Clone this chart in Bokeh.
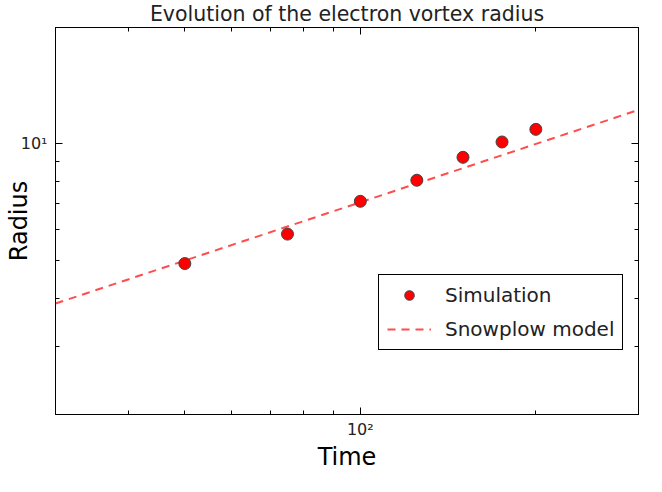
from bokeh.plotting import figure
from bokeh.models import LogAxis, FixedTicker, Legend, LegendItem, Range1d, ColumnDataSource
from bokeh.embed import file_html
from bokeh.resources import INLINE

# Data
sim_time = [50, 75, 100, 125, 150, 175, 200]
sim_radius = [4.91, 5.85, 7.11, 8.06, 9.24, 10.12, 10.91]
model_time = [30, 300]
model_radius = [3.87, 12.25]

x_major = [100]
x_minor = [30, 40, 50, 60, 70, 80, 90, 200, 300]
y_major = [10]
y_minor = [2, 3, 4, 5, 6, 7, 8, 9, 20]
x_tick_labels = {100: "10²"}
y_tick_labels = {10: "10¹"}

FONT = "DejaVu Sans"

p = figure(width=646, height=476, x_axis_type="log", y_axis_type="log",
           x_range=Range1d(30, 300), y_range=Range1d(2, 20),
           output_backend="svg", toolbar_location=None,
           title="Evolution of the electron vortex radius",
           min_border_left=55, min_border_right=8, min_border_top=27, min_border_bottom=62)

p.title.align = "center"
p.title.vertical_align = "top"
p.title.text_font = FONT
p.title.text_font_style = "normal"
p.title.text_font_size = "20.5px"
p.title.text_color = "#222222"
p.title.standoff = 0
p.title.offset = 0

p.grid.visible = False
p.outline_line_color = "black"
p.outline_line_width = 1
p.background_fill_color = "white"
p.border_fill_color = "white"

def style_axis(ax, major, minor, labels, label_size="16px"):
    ax.ticker = FixedTicker(ticks=major, minor_ticks=minor)
    ax.major_label_overrides = labels
    ax.axis_line_color = "black"
    ax.major_tick_line_color = "black"
    ax.minor_tick_line_color = "black"
    ax.major_tick_in = 7
    ax.major_tick_out = 0
    ax.minor_tick_in = 4
    ax.minor_tick_out = 0
    ax.major_label_text_font = FONT
    ax.major_label_text_font_size = label_size
    ax.major_label_text_color = "#222222"
    ax.axis_label_text_font = FONT
    ax.axis_label_text_font_style = "normal"
    ax.axis_label_text_font_size = "24px"
    ax.axis_label_text_color = "black"

xa = p.xaxis[0]
ya = p.yaxis[0]
style_axis(xa, x_major, x_minor, x_tick_labels)
style_axis(ya, y_major, y_minor, y_tick_labels)
xa.axis_label = "Time"
ya.axis_label = "Radius"
xa.major_label_standoff = 5
xa.axis_label_standoff = 1
ya.major_label_standoff = 8
ya.axis_label_standoff = -15

top = LogAxis()
style_axis(top, x_major, x_minor, {100: ""}, label_size="0px")
top.major_label_standoff = 0
top.axis_label_standoff = 0
p.add_layout(top, "above")
right = LogAxis()
style_axis(right, y_major, y_minor, {10: ""}, label_size="0px")
right.major_label_standoff = 0
right.axis_label_standoff = 0
p.add_layout(right, "right")

model_src = ColumnDataSource(dict(t=model_time, r=model_radius))
sim_src = ColumnDataSource(dict(t=sim_time, r=sim_radius))

ln = p.line("t", "r", source=model_src, line_color="red", line_alpha=0.7,
            line_width=2, line_dash="8 6")
sc = p.scatter("t", "r", source=sim_src, size=12, fill_color="red",
               line_color="#444444", line_width=1)

legend = Legend(items=[LegendItem(label="Simulation", renderers=[sc]),
                       LegendItem(label="Snowplow model", renderers=[ln])],
                location=(323, 64))
legend.label_text_font = FONT
legend.label_text_font_size = "20px"
legend.label_text_color = "#222222"
legend.border_line_color = "black"
legend.border_line_width = 1
legend.border_line_alpha = 1
legend.background_fill_alpha = 1
legend.glyph_width = 44
legend.glyph_height = 24
legend.label_standoff = 14
legend.padding = 8
legend.spacing = 10
legend.margin = 0
p.add_layout(legend, "center")

open("out.html", "w").write(file_html(p, INLINE))
